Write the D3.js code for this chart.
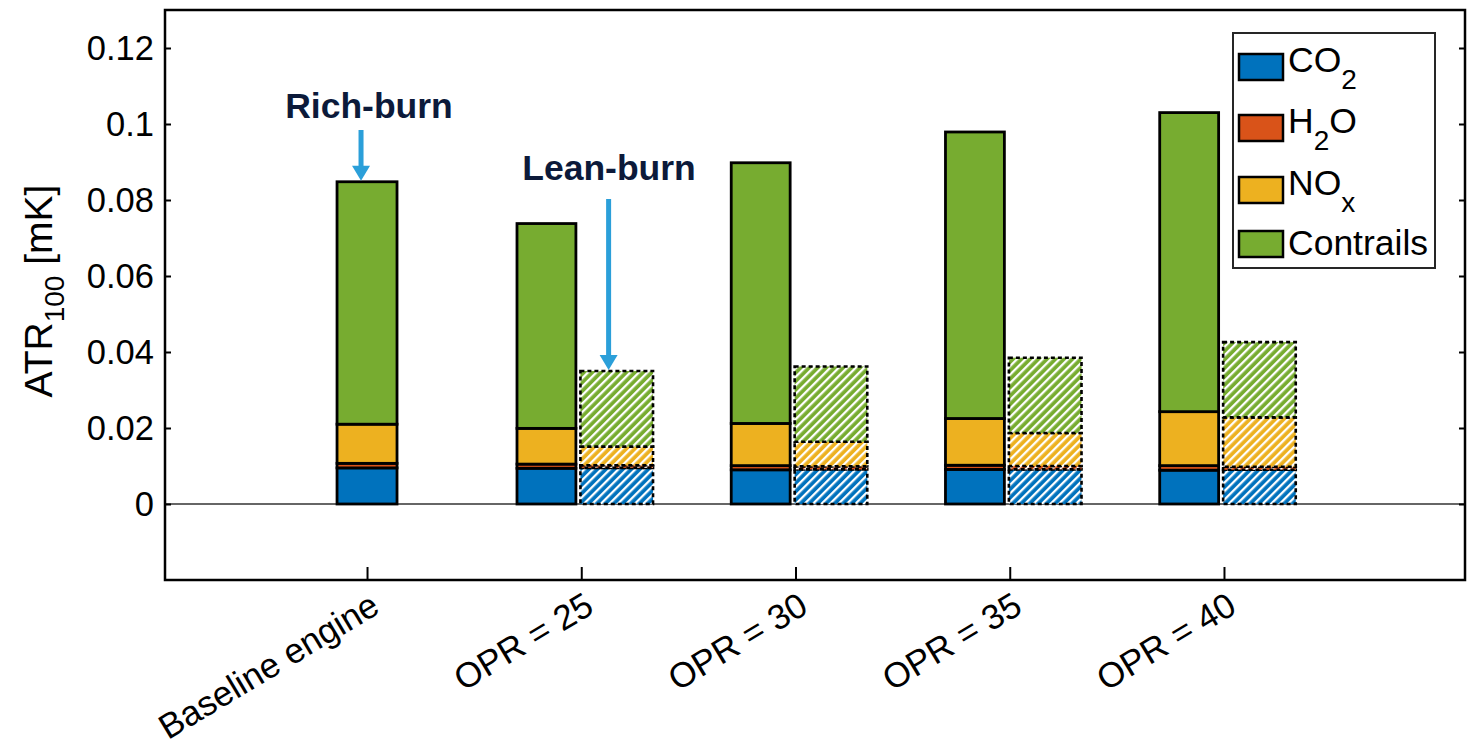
<!DOCTYPE html>
<html>
<head>
<meta charset="utf-8">
<script src="https://cdn.jsdelivr.net/npm/d3@7"></script>
<style>
  html, body { margin: 0; padding: 0; background: #ffffff; }
  svg { display: block; }
  text { font-family: "Liberation Sans", Arial, sans-serif; fill: #000; }
</style>
</head>
<body>
<svg id="chart" width="1468" height="751"></svg>
<script>
// Engine configurations along the x axis
const categories = ["Baseline engine", "OPR = 25", "OPR = 30", "OPR = 35", "OPR = 40"];
const species = ["CO2", "H2O", "NOx", "Contrails"];
const speciesColors = ["#0072BD", "#D95319", "#EDB120", "#77AC30"];

// Rich-burn combustor contributions, ATR100 [mK]
const co2Rich       = [0.0095, 0.0094, 0.0090, 0.0091, 0.0089];
const h2oRich       = [0.0012, 0.0011, 0.0011, 0.0011, 0.0012];
const noxRich       = [0.0103, 0.0094, 0.0111, 0.0123, 0.0142];
const contrailsRich = [0.0638, 0.0539, 0.0686, 0.0754, 0.0787];

// Lean-burn combustor contributions (no lean-burn baseline engine)
const co2Lean       = [null, 0.0095, 0.0091, 0.0091, 0.0090];
const h2oLean       = [null, 0.0007, 0.0008, 0.0009, 0.0008];
const noxLean       = [null, 0.0049, 0.0065, 0.0087, 0.0130];
const contrailsLean = [null, 0.0199, 0.0198, 0.0198, 0.0198];

const yTicks = [0, 0.02, 0.04, 0.06, 0.08, 0.1, 0.12];
const yTickLabels = ["0", "0.02", "0.04", "0.06", "0.08", "0.1", "0.12"];

const svg = d3.select("#chart");
const W = 1468, H = 751;
const plot = { left: 165, right: 1465, top: 10, bottom: 580 };

svg.append("rect").attr("width", W).attr("height", H).attr("fill", "#fff");

const x = d3.scaleLinear().domain([0.057, 6.125]).range([plot.left, plot.right]);
const y = d3.scaleLinear().domain([-0.02, 0.13]).range([plot.bottom, plot.top]);

// Hatch patterns for the lean-burn bars
const defs = svg.append("defs");
species.forEach((s, i) => {
  const p = defs.append("pattern")
    .attr("id", "hatch-" + s)
    .attr("patternUnits", "userSpaceOnUse")
    .attr("width", 6).attr("height", 6)
    .attr("patternTransform", "rotate(45)");
  p.append("rect").attr("width", 6).attr("height", 6).attr("fill", speciesColors[i]);
  p.append("rect").attr("x", 0).attr("width", 2.3).attr("height", 6).attr("fill", "#fff");
});

// Zero reference line
svg.append("line")
  .attr("x1", plot.left).attr("x2", plot.right)
  .attr("y1", y(0)).attr("y2", y(0))
  .attr("stroke", "#333").attr("stroke-width", 1.4);

// Stacked rows
const richRows = categories.map((c, i) => ({
  pos: i + 1, CO2: co2Rich[i], H2O: h2oRich[i], NOx: noxRich[i], Contrails: contrailsRich[i]
}));
const leanRows = categories.map((c, i) => ({
  pos: i + 1, CO2: co2Lean[i], H2O: h2oLean[i], NOx: noxLean[i], Contrails: contrailsLean[i]
})).filter(r => r.CO2 !== null);

const stack = d3.stack().keys(species);
const richStack = stack(richRows);
const leanStack = stack(leanRows);

// Bar placement within a group (in x units)
function richSpan(pos) {
  return pos === 1 ? [pos - 0.14, pos + 0.14] : [pos - 0.30, pos - 0.025];
}
function leanSpan(pos) {
  return [pos - 0.004, pos + 0.335];
}

const gBars = svg.append("g");
richStack.forEach((series, si) => {
  gBars.selectAll(null).data(series).enter().append("rect")
    .attr("x", d => x(richSpan(d.data.pos)[0]))
    .attr("width", d => x(richSpan(d.data.pos)[1]) - x(richSpan(d.data.pos)[0]))
    .attr("y", d => y(d[1]))
    .attr("height", d => y(d[0]) - y(d[1]))
    .attr("fill", speciesColors[si])
    .attr("stroke", "#000").attr("stroke-width", 2.8);
});
leanStack.forEach((series, si) => {
  gBars.selectAll(null).data(series).enter().append("rect")
    .attr("x", d => x(leanSpan(d.data.pos)[0]))
    .attr("width", d => x(leanSpan(d.data.pos)[1]) - x(leanSpan(d.data.pos)[0]))
    .attr("y", d => y(d[1]))
    .attr("height", d => y(d[0]) - y(d[1]))
    .attr("fill", "url(#hatch-" + species[si] + ")")
    .attr("stroke", "#000").attr("stroke-width", 2.6)
    .attr("stroke-dasharray", "4 3");
});

// Axes
const yAxis = d3.axisLeft(y).tickValues(yTicks)
  .tickFormat((d, i) => yTickLabels[i]).tickSize(-6).tickPadding(11);
const gy = svg.append("g").attr("transform", `translate(${plot.left},0)`).call(yAxis);
gy.select(".domain").remove();
gy.selectAll(".tick line").attr("stroke", "#000").attr("stroke-width", 2);
gy.selectAll(".tick text").attr("font-size", 34.5).attr("font-family", "Liberation Sans, Arial, sans-serif").attr("fill", "#000");

const gyR = svg.append("g").attr("transform", `translate(${plot.right},0)`)
  .call(d3.axisRight(y).tickValues(yTicks).tickFormat("").tickSize(-6));
gyR.select(".domain").remove();
gyR.selectAll(".tick line").attr("stroke", "#000").attr("stroke-width", 2);

const xAxis = d3.axisBottom(x).tickValues([1, 2, 3, 4, 5])
  .tickFormat(d => categories[d - 1]).tickSize(-13);
const gx = svg.append("g").attr("transform", `translate(0,${plot.bottom})`).call(xAxis);
gx.select(".domain").remove();
gx.selectAll(".tick line").attr("stroke", "#000").attr("stroke-width", 2);
gx.selectAll(".tick text")
  .attr("font-size", 35).attr("font-family", "Liberation Sans, Arial, sans-serif").attr("fill", "#000")
  .attr("text-anchor", "end")
  .attr("x", 0).attr("y", 0).attr("dy", 0)
  .attr("transform", "translate(14,32) rotate(-31)");

// Plot frame
svg.append("rect")
  .attr("x", plot.left).attr("y", plot.top)
  .attr("width", plot.right - plot.left).attr("height", plot.bottom - plot.top)
  .attr("fill", "none").attr("stroke", "#000").attr("stroke-width", 2.5);

// Y axis title with subscript
const yTitle = svg.append("text")
  .attr("transform", "translate(52,291) rotate(-90)")
  .attr("text-anchor", "middle")
  .attr("font-size", 39);
yTitle.append("tspan").text("ATR");
yTitle.append("tspan").attr("font-size", 28).attr("dy", 12).text("100");
yTitle.append("tspan").attr("dy", -12).text(" [mK]");

// Combustor annotations
const arrowColor = "#2B9FD9";
const noteColor = "#0C1A3A";
function downArrow(cx, yTop, yTip) {
  const headLen = 15, headHalf = 9, shaft = 5;
  svg.append("rect")
    .attr("x", cx - shaft / 2).attr("y", yTop)
    .attr("width", shaft).attr("height", yTip - headLen - yTop + 1)
    .attr("fill", arrowColor);
  svg.append("path")
    .attr("d", `M${cx - headHalf},${yTip - headLen} L${cx + headHalf},${yTip - headLen} L${cx},${yTip} Z`)
    .attr("fill", arrowColor);
}
const richTop = co2Rich[0] + h2oRich[0] + noxRich[0] + contrailsRich[0];
const leanTop = co2Lean[1] + h2oLean[1] + noxLean[1] + contrailsLean[1];
downArrow(x(1) - 6, 130, y(richTop) - 1);
downArrow(x(2 + 0.165) - 8, 199, y(leanTop) - 1);

svg.append("text").attr("x", 369).attr("y", 118).attr("text-anchor", "middle")
  .attr("font-family", "Open Sans, sans-serif").attr("font-weight", 700)
  .attr("font-size", 35.5).attr("fill", noteColor).style("fill", noteColor).text("Rich-burn");
svg.append("text").attr("x", 609).attr("y", 180).attr("text-anchor", "middle")
  .attr("font-family", "Open Sans, sans-serif").attr("font-weight", 700)
  .attr("font-size", 35.5).attr("fill", noteColor).style("fill", noteColor).text("Lean-burn");

// Legend
const legend = svg.append("g");
legend.append("rect")
  .attr("x", 1233).attr("y", 33).attr("width", 202).attr("height", 235)
  .attr("fill", "#fff").attr("stroke", "#262626").attr("stroke-width", 2);
const rowCenters = [67, 128, 190, 244];
const legendLabels = [
  [["CO", 0], ["2", 1]],
  [["H", 0], ["2", 1], ["O", 0]],
  [["NO", 0], ["x", 1]],
  [["Contrails", 0]]
];
species.forEach((s, i) => {
  const cy = rowCenters[i];
  legend.append("rect")
    .attr("x", 1239).attr("y", cy - 13).attr("width", 44).attr("height", 26)
    .attr("fill", speciesColors[i]).attr("stroke", "#000").attr("stroke-width", 2.5);
  const hasSub = legendLabels[i].length > 1;
  const t = legend.append("text").attr("x", 1288).attr("y", cy + (hasSub ? 5 : 11)).attr("font-size", 35.5);
  let down = false;
  legendLabels[i].forEach(([str, sub]) => {
    const ts = t.append("tspan").text(str);
    if (sub && !down) { ts.attr("dy", 17).attr("font-size", 28); down = true; }
    else if (!sub && down) { ts.attr("dy", -17); down = false; }
  });
});
</script>
</body>
</html>
